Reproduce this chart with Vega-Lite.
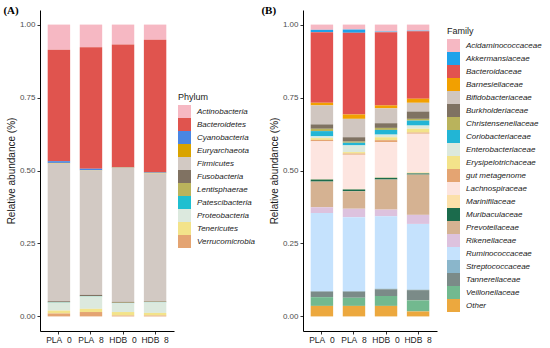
{
  "$schema": "https://vega.github.io/schema/vega-lite/v6.json",
  "padding": {"left": 3, "top": 5, "right": 0, "bottom": 0},
  "background": "white",
  "spacing": 6,
  "config": {
    "view": {"stroke": null},
    "font": "Liberation Sans",
    "axis": {"labelFont": "Liberation Sans", "labelFontSize": 8, "labelColor": "#4D4D4D", "titleFont": "Liberation Sans", "titleFontSize": 10, "titleFontWeight": "normal", "titleColor": "#1A1A1A", "domainColor": "#000000", "domainWidth": 1, "tickColor": "#333333", "tickSize": 3, "grid": false, "labelPadding": 2, "titlePadding": 3},
    "legend": {"labelFont": "Liberation Sans", "labelFontStyle": "italic", "labelFontSize": 8, "labelColor": "#1A1A1A", "titleFont": "Liberation Sans", "titleFontSize": 9, "titleFontWeight": "normal", "titleColor": "#1A1A1A", "symbolType": "square", "symbolSize": 169, "symbolStrokeWidth": 0, "symbolOpacity": 1, "rowPadding": 0, "labelOffset": 6, "titlePadding": 3, "labelLimit": 200}
  },
  "datasets": {
    "phylum": [
      {"sample": "PLA_0", "phylum": "Actinobacteria", "value": 0.086},
      {"sample": "PLA_0", "phylum": "Bacteroidetes", "value": 0.382},
      {"sample": "PLA_0", "phylum": "Cyanobacteria", "value": 0.006},
      {"sample": "PLA_0", "phylum": "Euryarchaeota", "value": 0.002},
      {"sample": "PLA_0", "phylum": "Firmicutes", "value": 0.472},
      {"sample": "PLA_0", "phylum": "Fusobacteria", "value": 0.003},
      {"sample": "PLA_0", "phylum": "Lentisphaerae", "value": 0.001},
      {"sample": "PLA_0", "phylum": "Patescibacteria", "value": 0.001},
      {"sample": "PLA_0", "phylum": "Proteobacteria", "value": 0.027},
      {"sample": "PLA_0", "phylum": "Tenericutes", "value": 0.010},
      {"sample": "PLA_0", "phylum": "Verrucomicrobia", "value": 0.010},
      {"sample": "PLA_8", "phylum": "Actinobacteria", "value": 0.078},
      {"sample": "PLA_8", "phylum": "Bacteroidetes", "value": 0.416},
      {"sample": "PLA_8", "phylum": "Cyanobacteria", "value": 0.005},
      {"sample": "PLA_8", "phylum": "Euryarchaeota", "value": 0.001},
      {"sample": "PLA_8", "phylum": "Firmicutes", "value": 0.426},
      {"sample": "PLA_8", "phylum": "Fusobacteria", "value": 0.004},
      {"sample": "PLA_8", "phylum": "Lentisphaerae", "value": 0.001},
      {"sample": "PLA_8", "phylum": "Patescibacteria", "value": 0.001},
      {"sample": "PLA_8", "phylum": "Proteobacteria", "value": 0.042},
      {"sample": "PLA_8", "phylum": "Tenericutes", "value": 0.011},
      {"sample": "PLA_8", "phylum": "Verrucomicrobia", "value": 0.015},
      {"sample": "HDB_0", "phylum": "Actinobacteria", "value": 0.068},
      {"sample": "HDB_0", "phylum": "Bacteroidetes", "value": 0.421},
      {"sample": "HDB_0", "phylum": "Cyanobacteria", "value": 0.001},
      {"sample": "HDB_0", "phylum": "Euryarchaeota", "value": 0.001},
      {"sample": "HDB_0", "phylum": "Firmicutes", "value": 0.459},
      {"sample": "HDB_0", "phylum": "Fusobacteria", "value": 0.003},
      {"sample": "HDB_0", "phylum": "Lentisphaerae", "value": 0.001},
      {"sample": "HDB_0", "phylum": "Patescibacteria", "value": 0.001},
      {"sample": "HDB_0", "phylum": "Proteobacteria", "value": 0.030},
      {"sample": "HDB_0", "phylum": "Tenericutes", "value": 0.012},
      {"sample": "HDB_0", "phylum": "Verrucomicrobia", "value": 0.003},
      {"sample": "HDB_8", "phylum": "Actinobacteria", "value": 0.052},
      {"sample": "HDB_8", "phylum": "Bacteroidetes", "value": 0.454},
      {"sample": "HDB_8", "phylum": "Cyanobacteria", "value": 0.002},
      {"sample": "HDB_8", "phylum": "Euryarchaeota", "value": 0.002},
      {"sample": "HDB_8", "phylum": "Firmicutes", "value": 0.438},
      {"sample": "HDB_8", "phylum": "Fusobacteria", "value": 0.002},
      {"sample": "HDB_8", "phylum": "Lentisphaerae", "value": 0.001},
      {"sample": "HDB_8", "phylum": "Patescibacteria", "value": 0.001},
      {"sample": "HDB_8", "phylum": "Proteobacteria", "value": 0.036},
      {"sample": "HDB_8", "phylum": "Tenericutes", "value": 0.009},
      {"sample": "HDB_8", "phylum": "Verrucomicrobia", "value": 0.003}
    ],
    "family": [
      {"sample": "PLA_0", "family": "Acidaminococcaceae", "value": 0.018},
      {"sample": "PLA_0", "family": "Akkermansiaceae", "value": 0.008},
      {"sample": "PLA_0", "family": "Bacteroidaceae", "value": 0.242},
      {"sample": "PLA_0", "family": "Barnesiellaceae", "value": 0.009},
      {"sample": "PLA_0", "family": "Bifidobacteriaceae", "value": 0.065},
      {"sample": "PLA_0", "family": "Burkholderiaceae", "value": 0.015},
      {"sample": "PLA_0", "family": "Christensenellaceae", "value": 0.008},
      {"sample": "PLA_0", "family": "Coriobacteriaceae", "value": 0.018},
      {"sample": "PLA_0", "family": "Enterobacteriaceae", "value": 0.006},
      {"sample": "PLA_0", "family": "Erysipelotrichaceae", "value": 0.006},
      {"sample": "PLA_0", "family": "gut metagenome", "value": 0.005},
      {"sample": "PLA_0", "family": "Lachnospiraceae", "value": 0.129},
      {"sample": "PLA_0", "family": "Marinifilaceae", "value": 0.002},
      {"sample": "PLA_0", "family": "Muribaculaceae", "value": 0.007},
      {"sample": "PLA_0", "family": "Prevotellaceae", "value": 0.088},
      {"sample": "PLA_0", "family": "Rikenellaceae", "value": 0.020},
      {"sample": "PLA_0", "family": "Ruminococcaceae", "value": 0.267},
      {"sample": "PLA_0", "family": "Streptococcaceae", "value": 0.002},
      {"sample": "PLA_0", "family": "Tannerellaceae", "value": 0.019},
      {"sample": "PLA_0", "family": "Veillonellaceae", "value": 0.030},
      {"sample": "PLA_0", "family": "Other", "value": 0.036},
      {"sample": "PLA_8", "family": "Acidaminococcaceae", "value": 0.017},
      {"sample": "PLA_8", "family": "Akkermansiaceae", "value": 0.011},
      {"sample": "PLA_8", "family": "Bacteroidaceae", "value": 0.280},
      {"sample": "PLA_8", "family": "Barnesiellaceae", "value": 0.015},
      {"sample": "PLA_8", "family": "Bifidobacteriaceae", "value": 0.063},
      {"sample": "PLA_8", "family": "Burkholderiaceae", "value": 0.015},
      {"sample": "PLA_8", "family": "Christensenellaceae", "value": 0.004},
      {"sample": "PLA_8", "family": "Coriobacteriaceae", "value": 0.009},
      {"sample": "PLA_8", "family": "Enterobacteriaceae", "value": 0.023},
      {"sample": "PLA_8", "family": "Erysipelotrichaceae", "value": 0.005},
      {"sample": "PLA_8", "family": "gut metagenome", "value": 0.004},
      {"sample": "PLA_8", "family": "Lachnospiraceae", "value": 0.117},
      {"sample": "PLA_8", "family": "Marinifilaceae", "value": 0.002},
      {"sample": "PLA_8", "family": "Muribaculaceae", "value": 0.006},
      {"sample": "PLA_8", "family": "Prevotellaceae", "value": 0.060},
      {"sample": "PLA_8", "family": "Rikenellaceae", "value": 0.029},
      {"sample": "PLA_8", "family": "Ruminococcaceae", "value": 0.253},
      {"sample": "PLA_8", "family": "Streptococcaceae", "value": 0.002},
      {"sample": "PLA_8", "family": "Tannerellaceae", "value": 0.021},
      {"sample": "PLA_8", "family": "Veillonellaceae", "value": 0.028},
      {"sample": "PLA_8", "family": "Other", "value": 0.036},
      {"sample": "HDB_0", "family": "Acidaminococcaceae", "value": 0.024},
      {"sample": "HDB_0", "family": "Akkermansiaceae", "value": 0.002},
      {"sample": "HDB_0", "family": "Bacteroidaceae", "value": 0.251},
      {"sample": "HDB_0", "family": "Barnesiellaceae", "value": 0.010},
      {"sample": "HDB_0", "family": "Bifidobacteriaceae", "value": 0.051},
      {"sample": "HDB_0", "family": "Burkholderiaceae", "value": 0.016},
      {"sample": "HDB_0", "family": "Christensenellaceae", "value": 0.007},
      {"sample": "HDB_0", "family": "Coriobacteriaceae", "value": 0.016},
      {"sample": "HDB_0", "family": "Enterobacteriaceae", "value": 0.009},
      {"sample": "HDB_0", "family": "Erysipelotrichaceae", "value": 0.010},
      {"sample": "HDB_0", "family": "gut metagenome", "value": 0.007},
      {"sample": "HDB_0", "family": "Lachnospiraceae", "value": 0.120},
      {"sample": "HDB_0", "family": "Marinifilaceae", "value": 0.002},
      {"sample": "HDB_0", "family": "Muribaculaceae", "value": 0.006},
      {"sample": "HDB_0", "family": "Prevotellaceae", "value": 0.103},
      {"sample": "HDB_0", "family": "Rikenellaceae", "value": 0.023},
      {"sample": "HDB_0", "family": "Ruminococcaceae", "value": 0.248},
      {"sample": "HDB_0", "family": "Streptococcaceae", "value": 0.002},
      {"sample": "HDB_0", "family": "Tannerellaceae", "value": 0.023},
      {"sample": "HDB_0", "family": "Veillonellaceae", "value": 0.034},
      {"sample": "HDB_0", "family": "Other", "value": 0.036},
      {"sample": "HDB_8", "family": "Acidaminococcaceae", "value": 0.021},
      {"sample": "HDB_8", "family": "Akkermansiaceae", "value": 0.002},
      {"sample": "HDB_8", "family": "Bacteroidaceae", "value": 0.231},
      {"sample": "HDB_8", "family": "Barnesiellaceae", "value": 0.014},
      {"sample": "HDB_8", "family": "Bifidobacteriaceae", "value": 0.030},
      {"sample": "HDB_8", "family": "Burkholderiaceae", "value": 0.025},
      {"sample": "HDB_8", "family": "Christensenellaceae", "value": 0.006},
      {"sample": "HDB_8", "family": "Coriobacteriaceae", "value": 0.017},
      {"sample": "HDB_8", "family": "Enterobacteriaceae", "value": 0.011},
      {"sample": "HDB_8", "family": "Erysipelotrichaceae", "value": 0.013},
      {"sample": "HDB_8", "family": "gut metagenome", "value": 0.004},
      {"sample": "HDB_8", "family": "Lachnospiraceae", "value": 0.132},
      {"sample": "HDB_8", "family": "Marinifilaceae", "value": 0.004},
      {"sample": "HDB_8", "family": "Muribaculaceae", "value": 0.004},
      {"sample": "HDB_8", "family": "Prevotellaceae", "value": 0.138},
      {"sample": "HDB_8", "family": "Rikenellaceae", "value": 0.031},
      {"sample": "HDB_8", "family": "Ruminococcaceae", "value": 0.225},
      {"sample": "HDB_8", "family": "Streptococcaceae", "value": 0.002},
      {"sample": "HDB_8", "family": "Tannerellaceae", "value": 0.035},
      {"sample": "HDB_8", "family": "Veillonellaceae", "value": 0.038},
      {"sample": "HDB_8", "family": "Other", "value": 0.017}
    ]
  },
  "hconcat": [
    {
      "title": {"text": "(A)", "anchor": "start", "frame": "bounds", "font": "Liberation Serif", "fontSize": 11, "fontWeight": "bold", "color": "#000000", "offset": -6, "dx": -3},
      "width": 134,
      "height": 321,
      "data": {"name": "phylum"},
      "mark": {"type": "bar"},
      "encoding": {
        "x": {"field": "sample", "type": "nominal", "sort": ["PLA_0", "PLA_8", "HDB_0", "HDB_8"], "scale": {"paddingInner": 0.3, "paddingOuter": 0.24}, "axis": {"title": null, "labelAngle": 0, "labelColor": "#222222", "labelFontSize": 8.5, "labelPadding": 1}},
        "y": {"field": "value", "type": "quantitative", "stack": "zero", "scale": {"domain": [-0.05, 1.05], "nice": false, "zero": false}, "axis": {"title": "Relative abundance (%)", "values": [0, 0.25, 0.5, 0.75, 1], "format": ".2f"}},
        "color": {"field": "phylum", "type": "nominal",
          "scale": {"domain": ["Actinobacteria", "Bacteroidetes", "Cyanobacteria", "Euryarchaeota", "Firmicutes", "Fusobacteria", "Lentisphaerae", "Patescibacteria", "Proteobacteria", "Tenericutes", "Verrucomicrobia"],
                    "range": ["#F6B8C3", "#E0544E", "#4A86E3", "#D9A300", "#D2C9C3", "#807262", "#BAB35C", "#1FBFD0", "#DCE9DE", "#F3E38A", "#E4A472"]},
          "legend": {"title": "Phylum", "orient": "none", "legendX": 138, "legendY": 83}},
        "order": {"field": "phylum", "sort": "descending"}
      }
    },
    {
      "title": {"text": "(B)", "anchor": "start", "frame": "bounds", "font": "Liberation Serif", "fontSize": 11, "fontWeight": "bold", "color": "#000000", "offset": -6, "dx": -8},
      "width": 134,
      "height": 321,
      "data": {"name": "family"},
      "transform": [
        {"calculate": "indexof(['Acidaminococcaceae','Akkermansiaceae','Bacteroidaceae','Barnesiellaceae','Bifidobacteriaceae','Burkholderiaceae','Christensenellaceae','Coriobacteriaceae','Enterobacteriaceae','Erysipelotrichaceae','gut metagenome','Lachnospiraceae','Marinifilaceae','Muribaculaceae','Prevotellaceae','Rikenellaceae','Ruminococcaceae','Streptococcaceae','Tannerellaceae','Veillonellaceae','Other'], datum.family)", "as": "rank"}
      ],
      "mark": {"type": "bar"},
      "encoding": {
        "x": {"field": "sample", "type": "nominal", "sort": ["PLA_0", "PLA_8", "HDB_0", "HDB_8"], "scale": {"paddingInner": 0.3, "paddingOuter": 0.24}, "axis": {"title": null, "labelAngle": 0, "labelColor": "#222222", "labelFontSize": 8.5, "labelPadding": 1}},
        "y": {"field": "value", "type": "quantitative", "stack": "zero", "scale": {"domain": [-0.05, 1.05], "nice": false, "zero": false}, "axis": {"title": "Relative abundance (%)", "values": [0, 0.25, 0.5, 0.75, 1], "format": ".2f"}},
        "color": {"field": "family", "type": "nominal",
          "scale": {"domain": ["Acidaminococcaceae", "Akkermansiaceae", "Bacteroidaceae", "Barnesiellaceae", "Bifidobacteriaceae", "Burkholderiaceae", "Christensenellaceae", "Coriobacteriaceae", "Enterobacteriaceae", "Erysipelotrichaceae", "gut metagenome", "Lachnospiraceae", "Marinifilaceae", "Muribaculaceae", "Prevotellaceae", "Rikenellaceae", "Ruminococcaceae", "Streptococcaceae", "Tannerellaceae", "Veillonellaceae", "Other"],
                    "range": ["#F6B8C3", "#1EA2EA", "#E2524F", "#F2A000", "#D0C6C0", "#7F7262", "#B9B35C", "#22B5D5", "#DCE9DE", "#F3E38A", "#E4A472", "#FDE5E0", "#FCE0AA", "#1B6B4C", "#D5B292", "#DDC2DE", "#C5E2FD", "#8AB6CB", "#7B8B88", "#72B98F", "#ECA83E"]},
          "legend": {"title": "Family", "orient": "none", "legendX": 144, "legendY": 17}},
        "order": {"field": "rank", "sort": "descending"}
      }
    }
  ],
  "resolve": {"scale": {"color": "independent", "x": "independent", "y": "independent"}, "legend": {"color": "independent"}}
}
